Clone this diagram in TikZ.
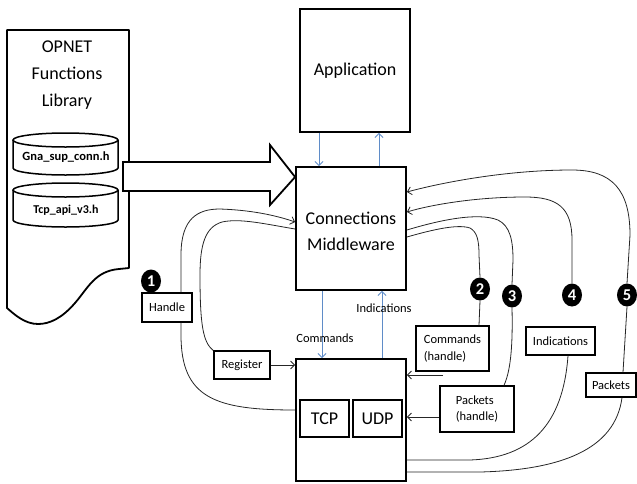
\documentclass[tikz,border=0pt]{standalone}
\usepackage{fontspec}
\setmainfont{Carlito}
\usetikzlibrary{arrows.meta,shapes.geometric,calc}
\definecolor{arrblue}{RGB}{95,140,200}
\begin{document}
\begin{tikzpicture}[x=1pt,y=-1pt,
  bigbox/.style={draw, line width=1.8pt, fill=white, minimum width=110pt, minimum height=123pt, inner sep=0pt, align=center, font=\fontsize{18}{26}\selectfont},
  subbox/.style={draw, line width=1.8pt, fill=white, minimum width=49pt, minimum height=37pt, inner sep=0pt, font=\fontsize{18}{22}\selectfont},
  lbl/.style={draw, line width=1.4pt, fill=white, inner sep=0pt, align=left, font=\fontsize{12.5}{16.5}\selectfont},
  smalltext/.style={inner sep=0pt, font=\fontsize{12.5}{16}\selectfont},
  badge/.style={ellipse, fill=black, text=white, inner sep=0pt, minimum width=20pt, minimum height=23pt, font=\bfseries\fontsize{16.5}{16}\selectfont},
  conn/.style={draw=black!85, line width=0.8pt},
  tip/.style={-{Straight Barb[length=4pt,width=8pt]}},
  bluearr/.style={draw=arrblue, line width=0.9pt}
]
\useasboundingbox (0,0) rectangle (637,483);

% library outline
\draw[line width=1.8pt, fill=white, line join=round]
  (7,30) -- (129,30) -- (129,268) -- (119,269)
  .. controls (95,271) and (88,288) .. (75,303)
  .. controls (62,318) and (50,324) .. (38,324)
  .. controls (25,324) and (15,315) .. (7,308) -- cycle;
\node[align=center, font=\fontsize{18}{27}\selectfont] (lib) at (67,75) {OPNET\\Functions\\Library};

% cylinders
\draw[line width=1.5pt, fill=white] (13,140) -- (13,168) arc[start angle=180, end angle=0, x radius=52.5, y radius=7] -- (118,140);
\draw[line width=1.5pt, fill=white] (65.5,140) ellipse[x radius=52.5, y radius=7];
\node[font=\bfseries\fontsize{12.5}{12}\selectfont] (cy1) at (66,157) {Gna\_sup\_conn.h};
\draw[line width=1.5pt, fill=white] (13,190) -- (13,220) arc[start angle=180, end angle=0, x radius=52.5, y radius=7] -- (118,190);
\draw[line width=1.5pt, fill=white] (65.5,190) ellipse[x radius=52.5, y radius=7];
\node[font=\bfseries\fontsize{12}{12}\selectfont] (cy2) at (66,210) {Tcp\_api\_v3.h};

% main boxes
\node[bigbox] (app) at (355,70.5) {Application};
\node[bigbox] (mw) at (351,228.5) {};
\node[align=center, font=\fontsize{18}{26}\selectfont] (mwt) at (351,231) {Connections\\Middleware};
\node[bigbox, minimum height=122pt] (tu) at (351,420) {};
\node[subbox] (tcp) at (324.5,418.5) {TCP};
\node[subbox] (udp) at (377.5,418.5) {UDP};

% big arrow
\draw[line width=1.8pt, fill=white, line join=miter]
  (123,162) -- (270,162) -- (270,145) -- (mw.west |- 0,177) -- (270,205) -- (270,191) -- (123,191) -- cycle;

% label boxes
\node[lbl, minimum width=50pt, minimum height=29pt] (hd) at (167,307.5) {Handle};
\node[lbl, minimum width=56pt, minimum height=28pt] (rg) at (242,365) {Register};
\node[lbl, minimum width=73pt, minimum height=45pt] (cm) at (452.5,348.5) {Commands\\(handle)};
\node[lbl, minimum width=74pt, minimum height=46pt] (ph) at (477,409) {Packets\\(handle)};
\node[lbl, minimum width=69pt, minimum height=28pt] (ind) at (560.5,341) {Indications};
\node[lbl, minimum width=50pt, minimum height=24pt] (pk) at (611,385) {Packets};

% badges
\node[badge] (b1) at (151,281) {1};
\node[badge] (b2) at (480,289) {2};
\node[badge] (b3) at (512,296) {3};
\node[badge] (b4) at (572,295) {4};
\node[badge] (b5) at (627,295) {5};

% blue arrows
\draw[bluearr,tip] (319,0 |- app.south) -- (319,0 |- mw.north);
\draw[bluearr,tip] (379,0 |- mw.north) -- (379,0 |- app.south);
\draw[bluearr,tip] (322,0 |- mw.south) -- (322,0 |- tu.north);
\draw[bluearr,tip] (382,0 |- tu.north) -- (382,0 |- mw.south);
\node[smalltext] (lcmd) at (325,338) {Commands};
\node[smalltext] (lind) at (384,308) {Indications};

% curve 1 (Handle)
\draw[conn] (tu.west |- 0,410) .. controls (215,410) and (181,398) .. (181,335) -- (181,0 |- hd.south);
\draw[conn,tip] (181,0 |- hd.north) -- (181,255) .. controls (181,218) and (198,209) .. (220,209) .. controls (250,210) and (275,215) .. (mw.west |- 0,222);

% register curve
\draw[conn] (mw.west |- 0,229) .. controls (265,224) and (240,218) .. (222,222) .. controls (205,227) and (200,245) .. (200,275) .. controls (200,325) and (203,342) .. (213,0 |- rg.north);
\draw[conn,tip] (rg.east) -- (tu.west |- rg.east);

% curve 2
\draw[conn] (mw.east |- 0,237) .. controls (435,229) and (458,224) .. (470,228) .. controls (477,232) and (479,240) .. (479,255) -- (b2.north);
\draw[conn] (b2.south) -- (479,0 |- cm.north);
\coordinate (c2s) at (443,375);
\draw[conn,tip] (c2s) -- (tu.east |- c2s);

% curve 3
\draw[conn] (mw.east |- 0,230) .. controls (440,220) and (478,212) .. (498,220) .. controls (510,226) and (513,240) .. (513,260) -- (b3.north);
\draw[conn] (b3.south) .. controls (513,350) and (510,372) .. (504,0 |- ph.north);
\draw[conn,tip] (ph.west |- 0,417) -- (tu.east |- 0,417);

% curve 4
\draw[conn,tip] (b4.north) -- (572,240) .. controls (572,207) and (557,197) .. (525,197) .. controls (475,197) and (430,205) .. (mw.east |- 0,212);
\draw[conn] (568,0 |- ind.south) .. controls (563,425) and (530,458) .. (470,460) -- (tu.east |- 0,460);

% curve 5
\draw[conn,tip] (b5.north) -- (630,235) .. controls (630,190) and (612,170) .. (572,170) .. controls (505,170) and (440,183) .. (mw.east |- 0,192);
\draw[conn] (b5.south) -- (623,0 |- pk.north);
\draw[conn] (622,0 |- pk.south) .. controls (615,450) and (560,470) .. (480,472) -- (tu.east |- 0,472);
\end{tikzpicture}
\end{document}
